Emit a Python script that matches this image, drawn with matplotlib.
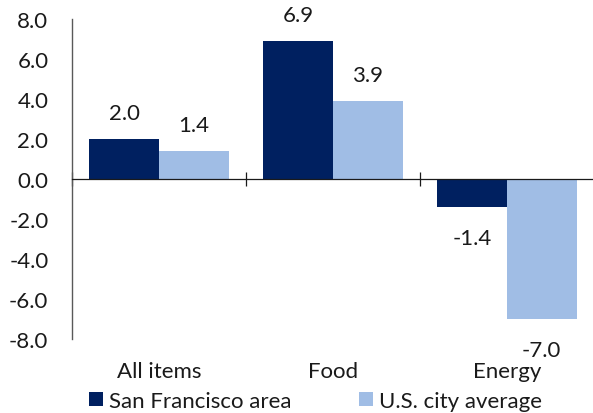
import numpy as np
import matplotlib.pyplot as plt
from matplotlib.transforms import blended_transform_factory

plt.rcParams['font.family'] = ['Lato', 'DejaVu Sans']

# データ
categories = ['All items', 'Food', 'Energy']
sf_values = [2.0, 6.9, -1.4]
us_values = [1.4, 3.9, -7.0]
series_names = ['San Francisco area', 'U.S. city average']

navy = '#002060'
light = '#A0BDE5'
fs = 16

fig = plt.figure(figsize=(5.93, 4.14), dpi=100)
ax = fig.add_axes([72 / 593, 74 / 414, 522 / 593, 320 / 414])

x = np.arange(len(categories))
w = 0.4
b1 = ax.bar(x - w / 2, sf_values, w, color=navy, label=series_names[0])
b2 = ax.bar(x + w / 2, us_values, w, color=light, label=series_names[1])

# データラベル
for bars in (b1, b2):
    for rect in bars:
        v = rect.get_height()
        off = 19 if v >= 0 else -22
        ax.annotate(f'{v:.1f}', (rect.get_x() + rect.get_width() / 2, v),
                    xytext=(0, off), textcoords='offset points',
                    ha='center', va='center', fontsize=fs, color='#1a1a1a')

ax.set_xlim(-0.5, 2.5)
ax.set_ylim(-8, 8)
ax.set_yticks(np.arange(-8, 9, 2))
ax.set_yticklabels([f'{t:.1f}' for t in np.arange(-8, 9, 2)], fontsize=fs, color='#1a1a1a')
ax.tick_params(axis='y', length=0, pad=17)

# ゼロ線と区切りの目盛り
for s in ['top', 'right']:
    ax.spines[s].set_visible(False)
ax.spines['left'].set_color('#595959')
ax.spines['left'].set_linewidth(1.0)
ax.spines['bottom'].set_position(('data', 0))
ax.spines['bottom'].set_color('#1a1a1a')
ax.spines['bottom'].set_linewidth(0.9)
ax.set_xticks([-0.5, 0.5, 1.5, 2.5])
ax.set_xticklabels([])
ax.tick_params(axis='x', direction='inout', length=10, width=0.9, color='#1a1a1a')

# カテゴリラベル
trans = blended_transform_factory(ax.transData, ax.transAxes)
for xi, c in zip(x, categories):
    ax.text(xi, -32 / 320, c, transform=trans, ha='center', va='center',
            fontsize=fs, color='#1a1a1a')

ax.legend(handles=[b1, b2], loc='center', bbox_to_anchor=(315.5 / 593, 1 - 402 / 414),
          bbox_transform=fig.transFigure, ncol=2, frameon=False, fontsize=fs,
          handlelength=0.63, handleheight=0.63, handletextpad=0.27,
          columnspacing=3.0, borderpad=0, labelcolor='#1a1a1a')

fig.savefig('out.png', dpi=100)
